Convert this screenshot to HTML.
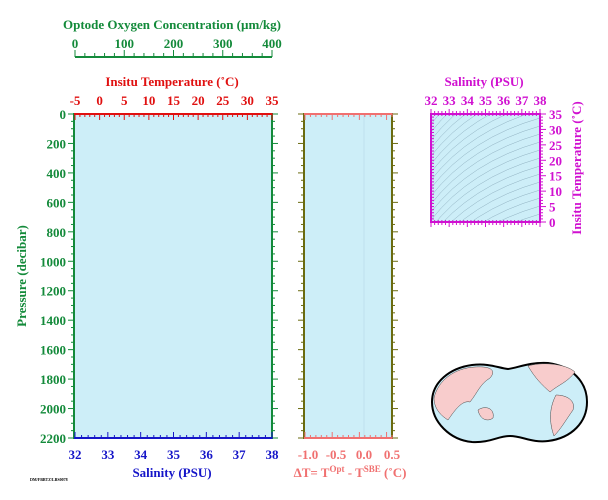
<!DOCTYPE html>
<html><head><style>
html,body{margin:0;padding:0;background:#fff;width:608px;height:500px;overflow:hidden}
svg{display:block;font-family:"Liberation Serif",serif;font-weight:bold}
</style></head><body>
<svg id="s" width="608" height="500" viewBox="0 0 608 500" xmlns="http://www.w3.org/2000/svg">
<rect x="75" y="114" width="197" height="324" fill="#cdeef8"/>
<rect x="304" y="114" width="88" height="324" fill="#cdeef8"/>
<line x1="364" y1="114" x2="364" y2="438" stroke="#bfe0ee" stroke-width="1"/>
<rect x="431" y="114" width="109" height="108" fill="#cdeef8"/>
<g id="ts" fill="none" stroke="#8fb0c0" stroke-width="0.5"></g>
<g id="g"></g>
<text x="172" y="29" font-size="13" fill="#138a3a" text-anchor="middle">Optode Oxygen Concentration (µm/kg)</text>
<text x="172" y="86" font-size="13" fill="#e01010" text-anchor="middle">Insitu Temperature (˚C)</text>
<text x="172" y="477" font-size="13" fill="#1515c8" text-anchor="middle">Salinity (PSU)</text>
<text x="484" y="86" font-size="13" fill="#d010d0" text-anchor="middle">Salinity (PSU)</text>
<text transform="translate(26,276) rotate(-90)" font-size="13" fill="#138a3a" text-anchor="middle">Pressure (decibar)</text>
<text transform="translate(581,168) rotate(-90)" font-size="13" fill="#d010d0" text-anchor="middle">Insitu Temperature (˚C)</text>
<text x="350" y="477" font-size="13" fill="#f07070" text-anchor="middle">ΔT= T<tspan dy="-5" font-size="9">Opt</tspan><tspan dy="5"> - T</tspan><tspan dy="-5" font-size="9">SBE</tspan><tspan dy="5"> (˚C)</tspan></text>
<text x="30" y="481" font-size="4" fill="#000">DM/FBBTZ/LBS0078</text>
<path d="M432,402 C432,382 450,368 472,365 C490,363 498,368 508,369 C518,368 528,362 548,363 C572,366 587,382 587,402 C587,422 572,438 548,441 C532,443 522,436 510,436 C498,436 490,443 472,442 C450,440 432,422 432,402 Z" fill="#cdeef8" stroke="#000" stroke-width="2"/>
<path d="M434,398 C438,380 455,368 475,367 C490,366 497,370 490,378 C480,384 478,392 470,402 C462,400 455,410 448,420 C440,415 434,408 434,398 Z" fill="#f8cccc" stroke="#444" stroke-width="0.5"/>
<path d="M478,410 C485,405 495,408 493,418 C488,422 480,420 478,410 Z" fill="#f8cccc" stroke="#444" stroke-width="0.5"/>
<path d="M528,366 C540,362 565,363 575,372 C568,382 558,385 550,392 C542,385 535,378 528,366 Z" fill="#f8cccc" stroke="#444" stroke-width="0.5"/>
<path d="M556,395 C566,395 576,400 573,410 C566,420 560,430 554,436 C550,425 548,410 556,395 Z" fill="#f8cccc" stroke="#444" stroke-width="0.5"/>
</svg>
<script>
var g=document.getElementById('g'),h='';
function L(x1,y1,x2,y2,c,w){h+='<line x1="'+x1+'" y1="'+y1+'" x2="'+x2+'" y2="'+y2+'" stroke="'+c+'" stroke-width="'+(w||1)+'"/>';}
function T(x,y,t,c,a){h+='<text x="'+x+'" y="'+y+'" font-size="13" fill="'+c+'" text-anchor="'+(a||'middle')+'">'+t+'</text>';}
var G='#138a3a',R='#e01010',B='#1515c8',M='#d010d0',P='#f07070',O='#6b6b10';
L(74,113,74,439,G,2);L(272,113,272,439,G,2);L(74,114,273,114,R,2);L(74,438,273,438,B,2);
for(var i=0;i<=44;i++){var y=114+i*324/44,maj=i%4==0;L(74,y,maj?68:71,y,G);L(272,y,maj?278:275,y,G);if(maj)T(66,y+5,i*50,G,'end');}
for(var i=0;i<=40;i++){var x=75+i*197/40,maj=i%5==0;L(x,114,x,maj?120:117,R);if(maj)T(x,105,-5+i,R);}
for(var i=0;i<=30;i++){var x=75+i*197/30,maj=i%5==0;L(x,438,x,maj?432:435,B);if(maj)T(x,459,32+i/5,B);}
L(75,57,272,57,G,2);
for(var i=0;i<=20;i++){var x=75+i*197/20,maj=i%5==0;L(x,57,x,maj?50:53,G);if(maj)T(x,48,i*20,G);}
L(304,113,304,439,O,2);L(392,113,392,439,O,2);L(304,114,393,114,P,2);L(304,438,393,438,P,2);
for(var i=0;i<=44;i++){var y=114+i*324/44,maj=i%4==0;L(304,y,maj?298:301,y,O);L(392,y,maj?398:395,y,O);}
for(var i=0;i<=16;i++){var x=305+i*87/16,maj=i%5==0;L(x,114,x,maj?120:117,P);L(x,438,x,maj?432:435,P);}
['-1.0','-0.5','0.0','0.5'].forEach(function(t,k){T(308+k*28,459,t,P);});
L(430,114,541,114,M,2);L(430,222,541,222,M,2);L(431,113,431,223,M,2);L(540,113,540,223,M,2);
for(var i=0;i<=30;i++){var x=431+i*109/30,maj=i%5==0;L(x,114,x,maj?109:111,M);L(x,222,x,maj?227:225,M);L(x,114,x,116,M);L(x,222,x,220,M);if(maj)T(x,105,32+i/5,M);}
for(var i=0;i<=35;i++){var y=222-i*108/35,maj=i%5==0;L(540,y,maj?546:543,y,M);L(431,y,434,y,M);if(maj)T(549,y+5,i,M,'start');}
g.innerHTML=h;
var s='';for(var k=-12;k<30;k++){var y0=222-k*8;s+='<path d="M431,'+(y0+30)+' Q470,'+(y0-20)+' 540,'+(y0-40)+'"/>';}
document.getElementById('ts').innerHTML='<clipPath id="c"><rect x="431" y="114" width="109" height="108"/></clipPath><g clip-path="url(#c)">'+s+'</g>';
</script>
</body></html>
